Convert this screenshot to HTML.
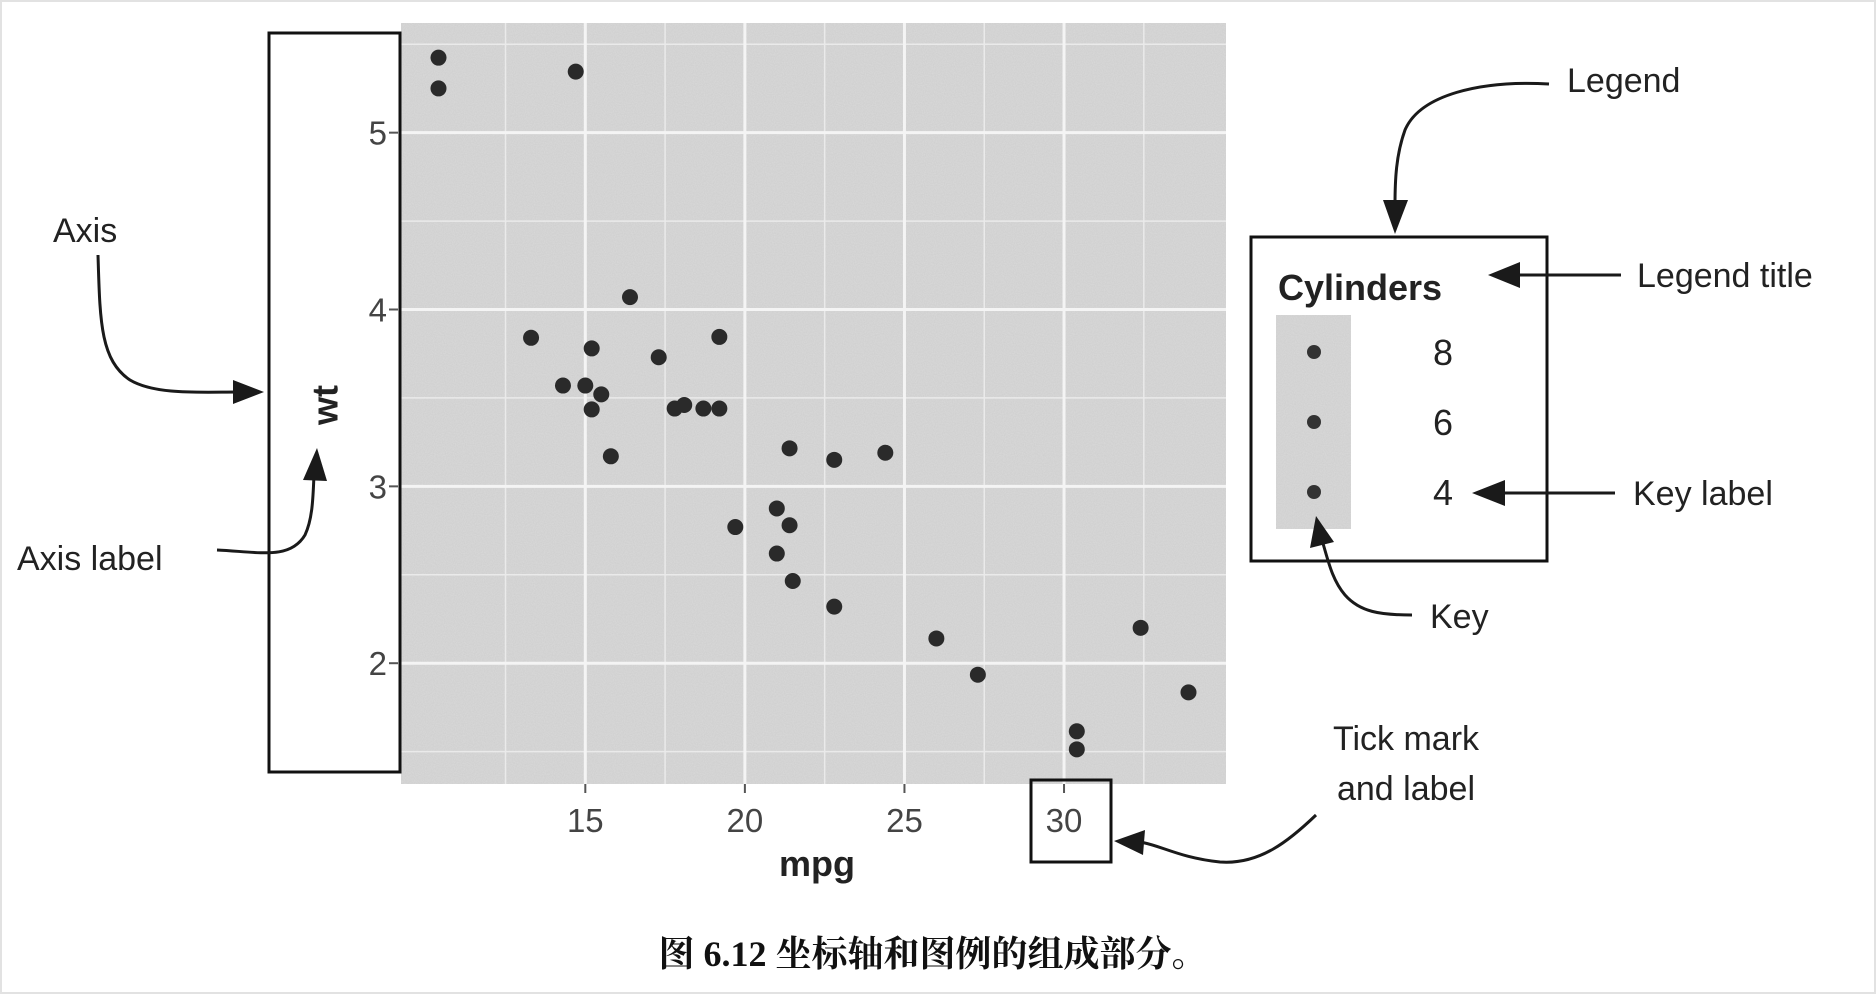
<!DOCTYPE html>
<html><head><meta charset="utf-8"><style>
html,body{margin:0;padding:0;background:#fff;}
svg{display:block;}
text{font-family:"Liberation Sans","Noto Sans CJK SC",sans-serif;}
</style></head><body>
<svg id="fig" width="1876" height="994" viewBox="0 0 1876 994">
<rect x="1" y="1" width="1874" height="992" fill="#fff" stroke="#e2e2e2" stroke-width="2"/>
<defs>
<filter id="noise" x="0" y="0" width="100%" height="100%"><feTurbulence type="fractalNoise" baseFrequency="0.9" numOctaves="1" seed="3"/><feColorMatrix type="matrix" values="0 0 0 0 0.8  0 0 0 0 0.8  0 0 0 0 0.8  0 0 0 -0.6 0.45"/></filter>
</defs>
<g id="panel-group"></g>
<g id="annot">
<rect x="269" y="33" width="131" height="739" fill="none" stroke="#111" stroke-width="3"/>
<text x="325" y="405" font-size="36" font-weight="bold" fill="#222" text-anchor="middle" transform="rotate(-90 325 405)" dominant-baseline="central">wt</text>
<text x="817" y="876" font-size="36" font-weight="bold" fill="#222" text-anchor="middle">mpg</text>
<text x="53" y="242" font-size="34" fill="#222">Axis</text>
<path d="M98,255 C100,320 100,360 130,380 C155,395 200,392 238,392" fill="none" stroke="#1a1a1a" stroke-width="3"/>
<path d="M233,380 L264,392 L233,404 z" fill="#1a1a1a"/>
<text x="17" y="570" font-size="34" fill="#222">Axis label</text>
<path d="M217,550 C260,552 290,560 305,535 C313,518 313,495 314,475" fill="none" stroke="#1a1a1a" stroke-width="3"/>
<path d="M303,480 L317,448 L327,481 z" fill="#1a1a1a"/>
<rect x="1031" y="780" width="80" height="82" fill="none" stroke="#111" stroke-width="3"/>
<text x="1406" y="750" font-size="34" fill="#222" text-anchor="middle">Tick mark</text>
<text x="1406" y="800" font-size="34" fill="#222" text-anchor="middle">and label</text>
<path d="M1316,815 C1290,840 1260,865 1220,862 C1180,858 1160,845 1140,842" fill="none" stroke="#1a1a1a" stroke-width="3"/>
<path d="M1145,830 L1114,841 L1143,855 z" fill="#1a1a1a"/>
<rect x="1251" y="237" width="296" height="324" fill="none" stroke="#111" stroke-width="3"/>
<text x="1278" y="300" font-size="36" font-weight="bold" fill="#222">Cylinders</text>
<rect x="1276" y="315" width="75" height="214" fill="#d0d0d0"/>
<rect x="1276" y="315" width="75" height="214" filter="url(#noise)"/>
<circle cx="1314" cy="352" r="7" fill="#333"/>
<circle cx="1314" cy="422" r="7" fill="#333"/>
<circle cx="1314" cy="492" r="7" fill="#333"/>
<text x="1443" y="365" font-size="36" fill="#222" text-anchor="middle">8</text>
<text x="1443" y="435" font-size="36" fill="#222" text-anchor="middle">6</text>
<text x="1443" y="505" font-size="36" fill="#222" text-anchor="middle">4</text>
<text x="1567" y="92" font-size="34" fill="#222">Legend</text>
<path d="M1549,84 C1480,80 1420,95 1405,130 C1396,155 1395,180 1395,205" fill="none" stroke="#1a1a1a" stroke-width="3"/>
<path d="M1383,200 L1395,234 L1408,200 z" fill="#1a1a1a"/>
<text x="1637" y="287" font-size="34" fill="#222">Legend title</text>
<line x1="1621" y1="275" x2="1515" y2="275" stroke="#1a1a1a" stroke-width="3"/>
<path d="M1520,262 L1488,275 L1520,288 z" fill="#1a1a1a"/>
<text x="1633" y="505" font-size="34" fill="#222">Key label</text>
<line x1="1615" y1="493" x2="1500" y2="493" stroke="#1a1a1a" stroke-width="3"/>
<path d="M1505,480 L1472,493 L1505,506 z" fill="#1a1a1a"/>
<text x="1430" y="628" font-size="34" fill="#222">Key</text>
<path d="M1412,615 C1380,615 1360,612 1345,595 C1332,580 1328,560 1322,540" fill="none" stroke="#1a1a1a" stroke-width="3"/>
<path d="M1310,548 L1316,516 L1334,542 z" fill="#1a1a1a"/>
<text x="933" y="966" font-size="36" font-weight="bold" fill="#111" text-anchor="middle" style="font-family:'Liberation Serif','Noto Serif CJK SC',serif">图 6.12 坐标轴和图例的组成部分。</text>
</g>
</svg>
<script>
const mpg = [21.0,21.0,22.8,21.4,18.7,18.1,14.3,24.4,22.8,19.2,17.8,16.4,17.3,15.2,10.4,10.4,14.7,32.4,30.4,33.9,21.5,15.5,15.2,13.3,19.2,27.3,26.0,30.4,15.8,19.7,15.0,21.4];
const wt = [2.620,2.875,2.320,3.215,3.440,3.460,3.570,3.190,3.150,3.440,3.440,4.070,3.730,3.780,5.250,5.424,5.345,2.200,1.615,1.835,2.465,3.520,3.435,3.840,3.845,1.935,2.140,1.513,3.170,2.770,3.570,2.780];
const xTicks = [15,20,25,30];
const yTicks = [2,3,4,5];

const NS = 'http://www.w3.org/2000/svg';
const P = {l:401, r:1226, t:23, b:784};
const xmin=9.225, xmax=35.075, ymin=1.317, ymax=5.62;
const sx = v => P.l + (v - xmin) / (xmax - xmin) * (P.r - P.l);
const sy = v => P.b - (v - ymin) / (ymax - ymin) * (P.b - P.t);
const g = document.getElementById('panel-group');
function mk(tag, attrs){const e=document.createElementNS(NS,tag);for(const k in attrs)e.setAttribute(k,attrs[k]);return e;}

let e = mk('rect',{x:P.l,y:P.t,width:P.r-P.l,height:P.b-P.t,fill:'#d0d0d0'});


g.appendChild(e);
e = mk('rect',{x:P.l,y:P.t,width:P.r-P.l,height:P.b-P.t,filter:'url(#noise)'});


g.appendChild(e);

const xs = [xTicks[0]-2.5].concat(xTicks.map(t=>t+2.5));
xs.forEach(v=>{ if(v>xmin && v<xmax){ const l=mk('line',{x1:sx(v),x2:sx(v),y1:P.t,y2:P.b,stroke:'#eaeaea','stroke-width':1.5});


g.appendChild(l);} });
const ys = [yTicks[0]-0.5].concat(yTicks.map(t=>t+0.5));
ys.forEach(v=>{ if(v>ymin && v<ymax){ const l=mk('line',{y1:sy(v),y2:sy(v),x1:P.l,x2:P.r,stroke:'#eaeaea','stroke-width':1.5});


g.appendChild(l);} });
xTicks.forEach(v=>{
  const l=mk('line',{x1:sx(v),x2:sx(v),y1:P.t,y2:P.b,stroke:'#f4f4f4','stroke-width':3});
  
  
  g.appendChild(l);
  const tk=mk('line',{x1:sx(v),x2:sx(v),y1:P.b,y2:P.b+9,stroke:'#555','stroke-width':2});
  
  
  g.appendChild(tk);
  const t=mk('text',{x:sx(v),y:P.b+48,'font-size':33,fill:'#444','text-anchor':'middle'});
  t.textContent=v;
  
  
  g.appendChild(t);
});
yTicks.forEach(v=>{
  const l=mk('line',{y1:sy(v),y2:sy(v),x1:P.l,x2:P.r,stroke:'#f4f4f4','stroke-width':3});
  
  
  g.appendChild(l);
  const tk=mk('line',{x1:P.l-12,x2:P.l-3,y1:sy(v),y2:sy(v),stroke:'#555','stroke-width':2});
  
  
  g.appendChild(tk);
  const t=mk('text',{x:P.l-14,y:sy(v)+12,'font-size':33,fill:'#444','text-anchor':'end'});
  t.textContent=v;
  
  
  g.appendChild(t);
});
mpg.forEach((m,i)=>{
  const c=mk('circle',{cx:sx(m),cy:sy(wt[i]),r:8,fill:'#2a2a2a'});
  
  
  g.appendChild(c);
});
</script>
</body></html>
